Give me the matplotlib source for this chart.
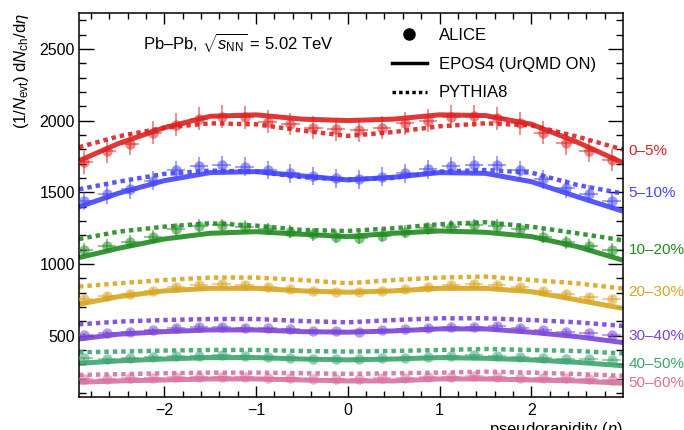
import numpy as np
import matplotlib
matplotlib.use('Agg')
import matplotlib.pyplot as plt
from matplotlib.lines import Line2D

plt.rcParams['font.family'] = ['Liberation Sans', 'DejaVu Sans']
plt.rcParams['mathtext.fontset'] = 'custom'
plt.rcParams['mathtext.rm'] = 'Liberation Sans'
plt.rcParams['mathtext.it'] = 'Liberation Sans:italic'

# centrality classes
classes = ['0–5%', '5–10%', '10–20%', '20–30%', '30–40%', '40–50%', '50–60%']
colors = ['#dd2222', '#4646fa', '#228b22', '#daa520', '#7a45d8', '#3da56f', '#d8729f']

# ALICE data points
eta_data = [-2.875, -2.625, -2.375, -2.125, -1.875, -1.625, -1.375, -1.125, -0.875, -0.625, -0.375, -0.125,
            0.125, 0.375, 0.625, 0.875, 1.125, 1.375, 1.625, 1.875, 2.125, 2.375, 2.625, 2.875]
alice = [
    [1710, 1786, 1840, 1914, 1972, 2012, 2027, 2023, 1992, 1976, 1950, 1939,
     1934, 1950, 1981, 1999, 2027, 2032, 2016, 1981, 1916, 1842, 1790, 1725],
    [1439, 1486, 1521, 1581, 1655, 1683, 1690, 1679, 1655, 1632, 1614, 1597,
     1590, 1609, 1632, 1660, 1683, 1690, 1690, 1655, 1590, 1528, 1488, 1439],
    [1098, 1128, 1156, 1191, 1244, 1267, 1272, 1260, 1244, 1225, 1207, 1191,
     1184, 1198, 1225, 1249, 1260, 1272, 1267, 1244, 1191, 1151, 1128, 1098],
    [756, 779, 791, 812, 842, 854, 858, 854, 842, 826, 812, 807,
     803, 812, 826, 842, 854, 858, 854, 842, 812, 789, 772, 756],
    [505, 517, 528, 540, 556, 563, 563, 556, 551, 544, 533, 533,
     528, 540, 547, 556, 563, 563, 570, 556, 540, 528, 517, 505],
    [342, 337, 347, 354, 361, 361, 365, 361, 354, 347, 337, 337,
     337, 342, 347, 354, 361, 365, 361, 354, 347, 337, 337, 331],
    [198, 198, 203, 207, 214, 214, 214, 214, 207, 203, 198, 198,
     198, 203, 207, 210, 214, 216, 214, 207, 207, 203, 198, 191],
]
alice_yerr = [80, 65, 45, 20, 15, 10, 8]
alice_xerr = 0.1

# model curves
eta_model = [-2.93, -2.5, -2.0, -1.5, -1.0, -0.5, 0.0, 0.5, 1.0, 1.5, 2.0, 2.5, 3.0]
epos = [
    [1720, 1840, 1950, 2030, 2040, 2010, 2000, 2010, 2040, 2035, 1975, 1850, 1705],
    [1398, 1493, 1581, 1637, 1644, 1614, 1586, 1605, 1637, 1632, 1574, 1469, 1368],
    [1044, 1109, 1174, 1214, 1225, 1207, 1191, 1214, 1230, 1221, 1191, 1121, 1026],
    [719, 772, 812, 830, 830, 812, 803, 812, 830, 830, 807, 749, 690],
    [477, 510, 528, 540, 540, 528, 524, 533, 547, 547, 524, 493, 452],
    [307, 324, 337, 347, 347, 337, 331, 337, 347, 342, 331, 314, 290],
    [175, 184, 191, 198, 198, 191, 184, 184, 198, 198, 191, 184, 168],
]
pythia = [
    [1814, 1890, 1950, 1981, 1974, 1930, 1893, 1920, 1960, 1981, 1967, 1888, 1798],
    [1521, 1574, 1628, 1651, 1644, 1605, 1590, 1600, 1644, 1655, 1637, 1551, 1491],
    [1174, 1225, 1260, 1284, 1267, 1237, 1230, 1249, 1277, 1291, 1260, 1214, 1165],
    [842, 865, 888, 905, 905, 888, 865, 888, 905, 912, 888, 865, 828],
    [579, 598, 609, 616, 616, 602, 593, 609, 621, 621, 609, 593, 568],
    [384, 389, 396, 400, 400, 393, 389, 393, 400, 407, 400, 393, 376],
    [226, 231, 238, 242, 242, 238, 233, 238, 242, 249, 242, 233, 220],
]

# where the class labels sit on the right side
label_y = [1788, 1495, 1098, 805, 500, 303, 170]

fig = plt.figure(figsize=(6.84, 4.30), dpi=100)
ax = fig.add_axes([0.1155, 0.0767, 0.7953, 0.893])

for i in range(len(classes)):
    c = colors[i]
    ax.plot(eta_model, epos[i], color=c, lw=3.6, alpha=0.9, solid_capstyle='butt', zorder=2)
    ax.plot(eta_model, pythia[i], color=c, lw=3.2, ls=(0, (1, 0.9)), alpha=0.9, zorder=2)
    ax.errorbar(eta_data, alice[i], yerr=alice_yerr[i], xerr=alice_xerr, fmt='o', ms=7.5,
                color=c, mec='none', alpha=0.55, elinewidth=1.3, capsize=0, zorder=3)
    ax.text(1.01, label_y[i], classes[i], color=c, fontsize=11, va='center', ha='left',
            transform=ax.get_yaxis_transform(), clip_on=False)

ax.set_xlim(-2.93, 3.0)
ax.set_ylim(72, 2750)
ax.set_xticks([-2, -1, 0, 1, 2])
ax.set_xticks(np.arange(-2.8, 3.0, 0.2), minor=True)
ax.set_yticks([500, 1000, 1500, 2000, 2500])
ax.set_yticks(np.arange(100, 2750, 100), minor=True)

ax.tick_params(which='both', direction='in', top=True, right=True, labelsize=11.5, width=1)
ax.tick_params(axis='y', which='major', length=11, pad=3)
ax.tick_params(axis='y', which='minor', length=5)
ax.tick_params(axis='x', which='major', length=8, pad=4)
ax.tick_params(axis='x', which='minor', length=4)
for s in ax.spines.values():
    s.set_linewidth(1.1)

ax.set_ylabel(r'$(1/N_{\rm evt})\ {\rm d}N_{\rm ch}/{\rm d}\eta$', fontsize=12, loc='top', labelpad=6)
ax.set_xlabel(r'pseudorapidity ($\eta$)', fontsize=12, loc='right')
ax.xaxis.set_label_coords(1.0, -0.06)

ax.text(0.118, 0.924, r'Pb–Pb, $\sqrt{s_{\rm NN}}$ = 5.02 TeV', transform=ax.transAxes,
        fontsize=12, va='center', ha='left')

handles = [
    Line2D([], [], color='black', marker='o', ls='none', ms=8),
    Line2D([], [], color='black', lw=2.5),
    Line2D([], [], color='black', lw=2.5, ls=(0, (1, 0.9))),
]
ax.legend(handles, ['ALICE', 'EPOS4 (UrQMD ON)', 'PYTHIA8'], loc='upper left',
          bbox_to_anchor=(0.563, 0.978), frameon=False, fontsize=12,
          handlelength=2.1, handletextpad=0.7, labelspacing=0.82, borderaxespad=0)

fig.savefig('out.png', dpi=100)
